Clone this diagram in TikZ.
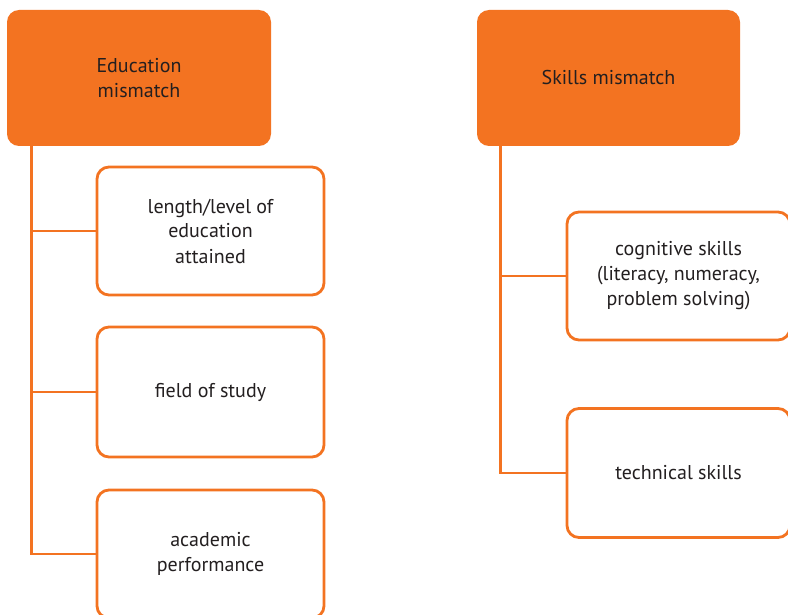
\documentclass[tikz,border=0pt]{standalone}
\usepackage{fontspec}
\setmainfont{PT Sans}
\definecolor{brand}{HTML}{F37321}
\definecolor{ink}{HTML}{231F20}
\begin{document}
\begin{tikzpicture}[x=1pt,y=-1pt,
  every node/.style={font=\fontsize{20}{25}\selectfont, text=ink, align=center},
  headbox/.style={rectangle, rounded corners=12pt, fill=brand, draw=none,
    minimum width=264pt, minimum height=136pt},
  itembox/.style={rectangle, rounded corners=12pt, draw=brand, line width=2.8pt,
    fill=white, minimum width=227pt, minimum height=128pt},
  link/.style={draw=brand, line width=2.8pt}]
\useasboundingbox (0,0) rectangle (788,615);

% column headings
\node[headbox] (edu) at (139,78) {Education\\mismatch};
\node[headbox, minimum width=263pt] (skl) at (608.5,78) {Skills mismatch};

% education mismatch items
\node[itembox] (len) at (210.5,231) {length/level of\\education\\attained};
\node[itembox, minimum height=130pt] (fld) at (210.5,392) {field of study};
\node[itembox] (acd) at (210.5,554) {academic\\performance};

% skills mismatch items
\node[itembox, minimum width=223pt] (cog) at (678.5,276) {cognitive skills\\(literacy, numeracy,\\problem solving)};
\node[itembox, minimum width=223pt, minimum height=129pt] (tec) at (678.5,473) {technical skills};

% trunks
\coordinate (et) at ([xshift=25pt]edu.south west);
\coordinate (st) at ([xshift=24pt]skl.south west);
\draw[link] (et) |- (acd.west);
\draw[link] (len.west) -- (len.west -| et);
\draw[link] (fld.west) -- (fld.west -| et);
\draw[link] (st) |- (tec.west);
\draw[link] (cog.west) -- (cog.west -| st);
\end{tikzpicture}
\end{document}
